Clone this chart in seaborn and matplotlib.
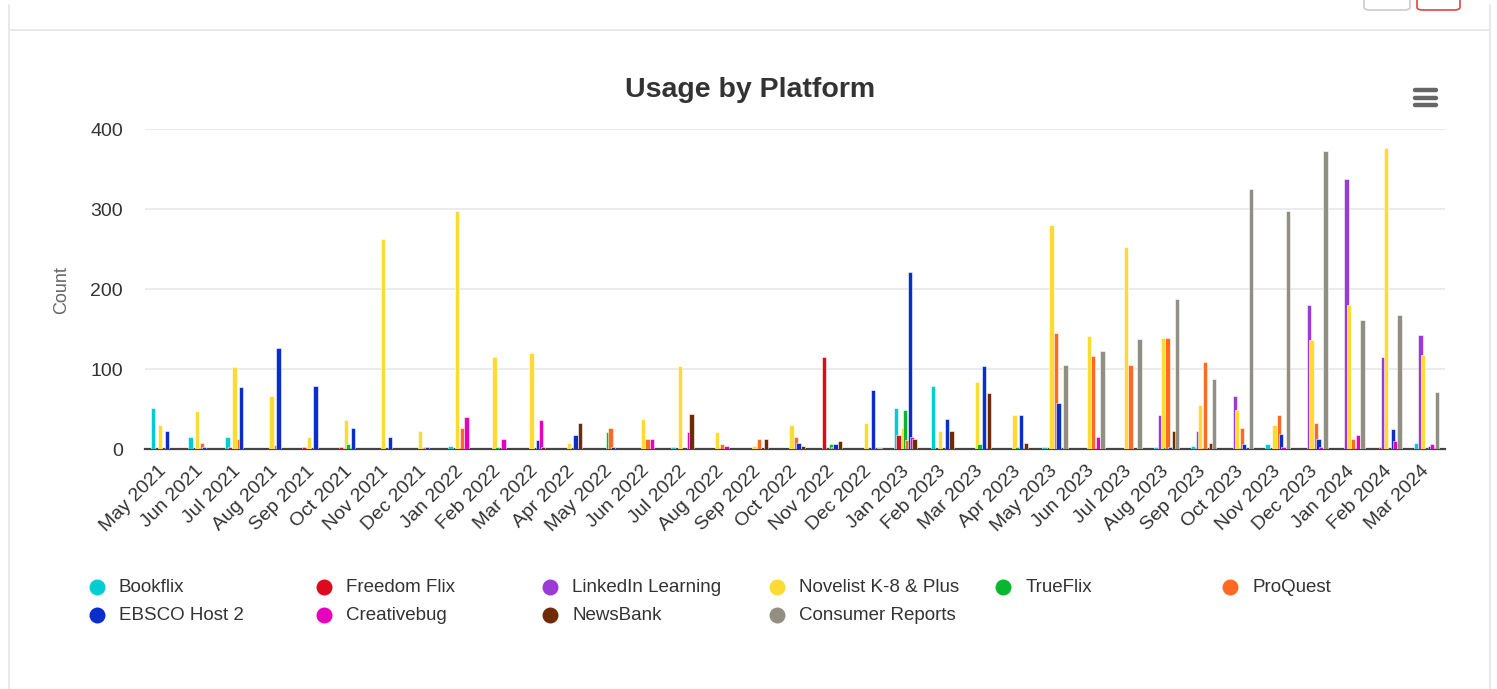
import numpy as np
import pandas as pd
import matplotlib
matplotlib.use("Agg")
import matplotlib.pyplot as plt
import seaborn as sns
from matplotlib.lines import Line2D
from matplotlib.patches import FancyBboxPatch

months = ["May 2021", "Jun 2021", "Jul 2021", "Aug 2021", "Sep 2021", "Oct 2021",
          "Nov 2021", "Dec 2021", "Jan 2022", "Feb 2022", "Mar 2022", "Apr 2022",
          "May 2022", "Jun 2022", "Jul 2022", "Aug 2022", "Sep 2022", "Oct 2022",
          "Nov 2022", "Dec 2022", "Jan 2023", "Feb 2023", "Mar 2023", "Apr 2023",
          "May 2023", "Jun 2023", "Jul 2023", "Aug 2023", "Sep 2023", "Oct 2023",
          "Nov 2023", "Dec 2023", "Jan 2024", "Feb 2024", "Mar 2024"]

platforms = ["Bookflix", "Freedom Flix", "LinkedIn Learning", "Novelist K-8 & Plus",
             "TrueFlix", "ProQuest", "EBSCO Host 2", "Creativebug", "NewsBank",
             "Consumer Reports"]

colors = ["#00CDD2", "#DD0A1E", "#9B3BD6", "#FDDB33", "#05B82E", "#FF6A22",
          "#0A2ECC", "#E600BE", "#6E2B06", "#918E82"]

bookflix = [51, 15, 15, 0, 0, 0, 0, 0, 4, 0, 0, 0, 0, 0, 2, 0, 0, 0, 0, 0,
            51, 79, 0, 0, 2, 0, 0, 2, 4, 0, 6, 0, 0, 0, 8]
freedom_flix = [0, 0, 2, 0, 2, 2, 0, 0, 0, 0, 0, 0, 0, 0, 0, 0, 0, 0, 115, 0,
                18, 0, 0, 0, 0, 0, 0, 0, 0, 0, 0, 0, 0, 2, 0]
linkedin = [0, 0, 0, 0, 0, 0, 0, 0, 0, 0, 0, 0, 0, 0, 0, 0, 0, 0, 0, 0,
            0, 0, 0, 0, 0, 0, 0, 42, 23, 66, 0, 180, 338, 115, 143]
novelist = [30, 47, 102, 66, 15, 36, 263, 23, 297, 115, 120, 8, 0, 38, 104, 21, 4, 30, 0, 32,
            26, 23, 84, 42, 280, 141, 253, 139, 55, 49, 30, 136, 180, 376, 118]
trueflix = [0, 0, 0, 0, 0, 6, 0, 0, 0, 2, 0, 0, 21, 0, 0, 0, 0, 0, 6, 0,
            49, 0, 6, 2, 0, 0, 0, 2, 0, 0, 0, 0, 0, 0, 0]
proquest = [0, 8, 12, 5, 0, 0, 0, 2, 26, 0, 0, 0, 26, 12, 0, 6, 13, 15, 2, 0,
            11, 0, 0, 0, 145, 116, 105, 139, 109, 26, 42, 32, 12, 0, 0]
ebsco = [23, 2, 77, 126, 79, 26, 15, 2, 0, 0, 11, 17, 2, 0, 0, 0, 0, 8, 6, 74,
         221, 38, 104, 42, 57, 0, 0, 2, 0, 6, 19, 12, 0, 25, 4]
creativebug = [0, 0, 0, 0, 0, 0, 0, 0, 40, 12, 36, 0, 0, 13, 21, 4, 0, 0, 0, 0,
               15, 0, 0, 0, 0, 15, 0, 0, 0, 0, 2, 2, 17, 10, 6]
newsbank = [0, 0, 0, 0, 0, 0, 0, 0, 0, 0, 2, 32, 0, 0, 44, 0, 12, 4, 10, 0,
            12, 23, 70, 8, 0, 0, 0, 23, 8, 0, 0, 0, 0, 0, 0]
consumer_reports = [0, 0, 0, 0, 0, 0, 0, 0, 0, 0, 0, 0, 0, 0, 0, 0, 0, 0, 0, 1,
                    0, 0, 0, 0, 105, 122, 138, 188, 87, 325, 297, 372, 161, 167, 71]

series = [bookflix, freedom_flix, linkedin, novelist, trueflix, proquest,
          ebsco, creativebug, newsbank, consumer_reports]

y_ticks = [0, 100, 200, 300, 400]

rows = []
for name, vals in zip(platforms, series):
    for m, v in zip(months, vals):
        rows.append({"month": m, "platform": name, "count": v})
df = pd.DataFrame(rows)

sns.set_theme(style="white")
plt.rcParams["font.family"] = ["Liberation Sans", "DejaVu Sans"]

W, H = 1497, 689
fig = plt.figure(figsize=(W / 100, H / 100), dpi=100)
fig.patch.set_facecolor("white")

def fx(px):
    return px / W

def fy(py):
    return 1 - py / H

ax = fig.add_axes([fx(145), fy(449), (1445 - 145) / W, (449 - 129) / H])

sns.barplot(data=df, x="month", y="count", hue="platform", order=months,
            hue_order=platforms, palette=colors, saturation=1, width=0.62,
            dodge=True, legend=False, ax=ax, edgecolor="white", linewidth=0.4,
            zorder=3, errorbar=None)

# widen bars so neighbours overlap like the reference
for p in ax.patches:
    w = p.get_width()
    nw = w * 1.9
    p.set_x(p.get_x() - (nw - w) / 2)
    p.set_width(nw)

ax.set_xlim(-0.5, len(months) - 0.5)
ax.set_ylim(0, 400)
ax.set_yticks(y_ticks)
ax.set_yticklabels([str(t) for t in y_ticks])
ax.yaxis.grid(True, color="#e6e6e6", linewidth=1.1, zorder=0)
ax.set_axisbelow(True)
for s in ["top", "right", "left"]:
    ax.spines[s].set_visible(False)
ax.spines["bottom"].set_color("#444444")
ax.spines["bottom"].set_linewidth(1.6)
ax.spines["bottom"].set_zorder(2)

ax.tick_params(axis="y", length=0, pad=16, labelsize=14, labelcolor="#333333")
ax.tick_params(axis="x", length=0, pad=14, labelsize=14, labelcolor="#333333")
for lab in ax.get_xticklabels():
    lab.set_rotation(45)
    lab.set_ha("right")
    lab.set_va("center")
    lab.set_rotation_mode("anchor")

ax.set_xlabel("")
ax.set_ylabel("Count", fontsize=13, color="#666666")
ax.yaxis.set_label_coords((70 - 145) / 1300, (449 - 290) / 320)

fig.text(fx(750), fy(90), "Usage by Platform", ha="center", va="center",
         fontsize=20.5, fontweight="bold", color="#333333")

# legend laid out in fixed-width columns
for i, (name, col) in enumerate(zip(platforms, colors)):
    c = i % 6
    r = i // 6
    mx = 97 + 226.6 * c
    my = 587 + 28 * r
    fig.add_artist(Line2D([fx(mx)], [fy(my)], marker="o", markersize=11.5,
                          color=col, markeredgewidth=0, linestyle="none",
                          transform=fig.transFigure))
    fig.text(fx(mx + 22), fy(my), name, ha="left", va="center",
             fontsize=13.5, color="#333333")

# card border
border = "#e4e4e4"
fig.add_artist(Line2D([fx(10), fx(1490)], [fy(30), fy(30)], color=border,
                      linewidth=1.2, transform=fig.transFigure))
fig.add_artist(Line2D([fx(9), fx(9)], [fy(5), fy(689)], color=border,
                      linewidth=1.2, transform=fig.transFigure))
fig.add_artist(Line2D([fx(1490), fx(1490)], [fy(5), fy(689)], color=border,
                      linewidth=1.2, transform=fig.transFigure))

# top-right buttons (partially visible)
fig.add_artist(FancyBboxPatch((fx(1364), fy(10)), fx(46), 20 / H,
                              boxstyle="round,pad=0,rounding_size=0.004",
                              transform=fig.transFigure, facecolor="white",
                              edgecolor="#cccccc", linewidth=1.2))
fig.add_artist(FancyBboxPatch((fx(1417), fy(10)), fx(43), 20 / H,
                              boxstyle="round,pad=0,rounding_size=0.004",
                              transform=fig.transFigure, facecolor="white",
                              edgecolor="#dd4444", linewidth=1.2))

# hamburger menu icon
for yy in [90, 97.5, 105]:
    fig.add_artist(Line2D([fx(1415), fx(1436)], [fy(yy), fy(yy)], color="#666666",
                          linewidth=3.2, solid_capstyle="round",
                          transform=fig.transFigure))

fig.savefig("out.png", dpi=100, facecolor="white")
